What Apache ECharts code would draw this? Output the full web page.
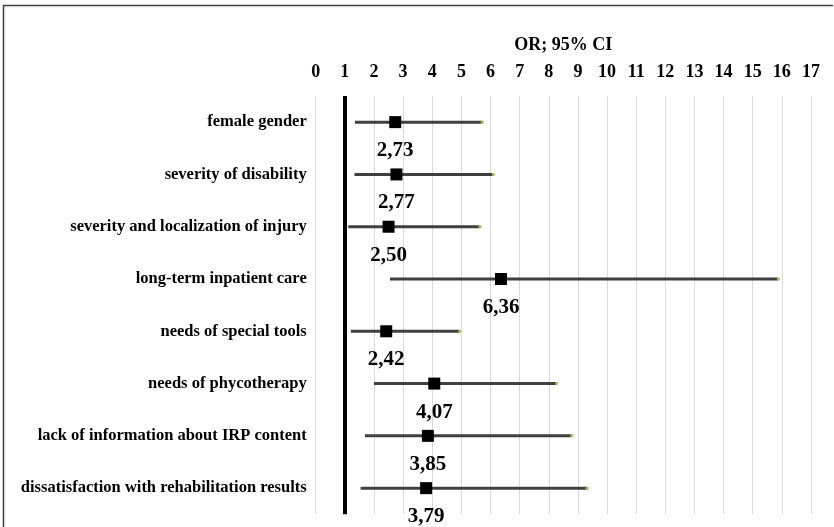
<!DOCTYPE html>
<html>
<head>
<meta charset="utf-8">
<script src="https://cdn.jsdelivr.net/npm/echarts@6/dist/echarts.min.js"></script>
<style>
  html, body { margin: 0; padding: 0; background: #fff; }
  #chart { width: 834px; height: 527px; }
</style>
</head>
<body>
<div id="chart"></div>
<script>
// Odds ratios with 95% confidence intervals
const categories = [
  'female gender',
  'severity of disability',
  'severity and localization of injury',
  'long-term inpatient care',
  'needs of special tools',
  'needs of phycotherapy',
  'lack of information about IRP content',
  'dissatisfaction with rehabilitation results'
];
const orValues = [2.73, 2.77, 2.50, 6.36, 2.42, 4.07, 3.85, 3.79];
const ciLow    = [1.35, 1.33, 1.12, 2.55, 1.21, 2.00, 1.69, 1.54];
const ciHigh   = [5.72, 6.10, 5.64, 15.88, 4.95, 8.27, 8.79, 9.32];
const axisMin = 0;
const axisMax = 17;
const axisStep = 1;
const referenceOR = 1;

const serif = '"Liberation Serif", "Times New Roman", serif';

const ciData = categories.map((c, i) => [ciLow[i], ciHigh[i], i]);
const orData = categories.map((c, i) => [orValues[i], i]);

const chart = echarts.init(document.getElementById('chart'));
chart.setOption({
  backgroundColor: '#fff',
  animation: false,
  grid: { left: 315.7, right: 23, top: 96, bottom: 12.7 },
  xAxis: {
    type: 'value',
    position: 'top',
    min: axisMin,
    max: axisMax,
    interval: axisStep,
    name: 'OR; 95% CI',
    nameLocation: 'middle',
    nameGap: 42,
    nameTextStyle: { fontFamily: serif, fontWeight: 'bold', fontSize: 18, color: '#000' },
    axisLine: { show: false },
    axisTick: { show: false },
    axisLabel: { margin: 15, fontFamily: serif, fontWeight: 'bold', fontSize: 18, color: '#000' },
    splitLine: { show: true, lineStyle: { color: '#d9d9d9', width: 1 } }
  },
  yAxis: {
    type: 'category',
    data: categories,
    inverse: true,
    axisLine: { show: false },
    axisTick: { show: false },
    splitLine: { show: false },
    axisLabel: { margin: 9, fontFamily: serif, fontWeight: 'bold', fontSize: 16.5, color: '#000' }
  },
  series: [
    {
      type: 'custom',
      dimensions: ['low', 'high', 'row'],
      data: ciData,
      encode: { x: [0, 1], y: 2 },
      renderItem: function (params, api) {
        const idx = api.value(2);
        const p0 = api.coord([api.value(0), idx]);
        const p1 = api.coord([api.value(1), idx]);
        return {
          type: 'group',
          children: [
            {
              type: 'line',
              shape: { x1: p0[0], y1: p0[1], x2: p1[0], y2: p1[1] },
              style: { stroke: '#404040', lineWidth: 3 }
            },
            {
              type: 'circle',
              shape: { cx: p1[0], cy: p1[1], r: 1.6 },
              style: { fill: '#9bc85a' }
            }
          ]
        };
      },
      z: 2
    },
    {
      type: 'scatter',
      data: orData,
      symbol: 'rect',
      symbolSize: 12,
      itemStyle: { color: '#000', opacity: 1 },
      label: {
        show: true,
        position: 'bottom',
        distance: 12,
        fontFamily: serif,
        fontWeight: 'bold',
        fontSize: 21,
        color: '#000',
        opacity: 1,
        formatter: p => p.value[0].toFixed(2).replace('.', ',')
      },
      markLine: {
        silent: true,
        symbol: 'none',
        label: { show: false },
        lineStyle: { color: '#000', width: 4, type: 'solid', opacity: 1 },
        data: [{ xAxis: referenceOR }]
      },
      z: 3
    }
  ],
  graphic: [
    {
      type: 'polyline',
      silent: true,
      shape: { points: [[3.5, 527], [3.5, 5.5], [833, 5.5]] },
      style: { stroke: '#404040', lineWidth: 1.5, fill: null }
    }
  ]
});
</script>
</body>
</html>
